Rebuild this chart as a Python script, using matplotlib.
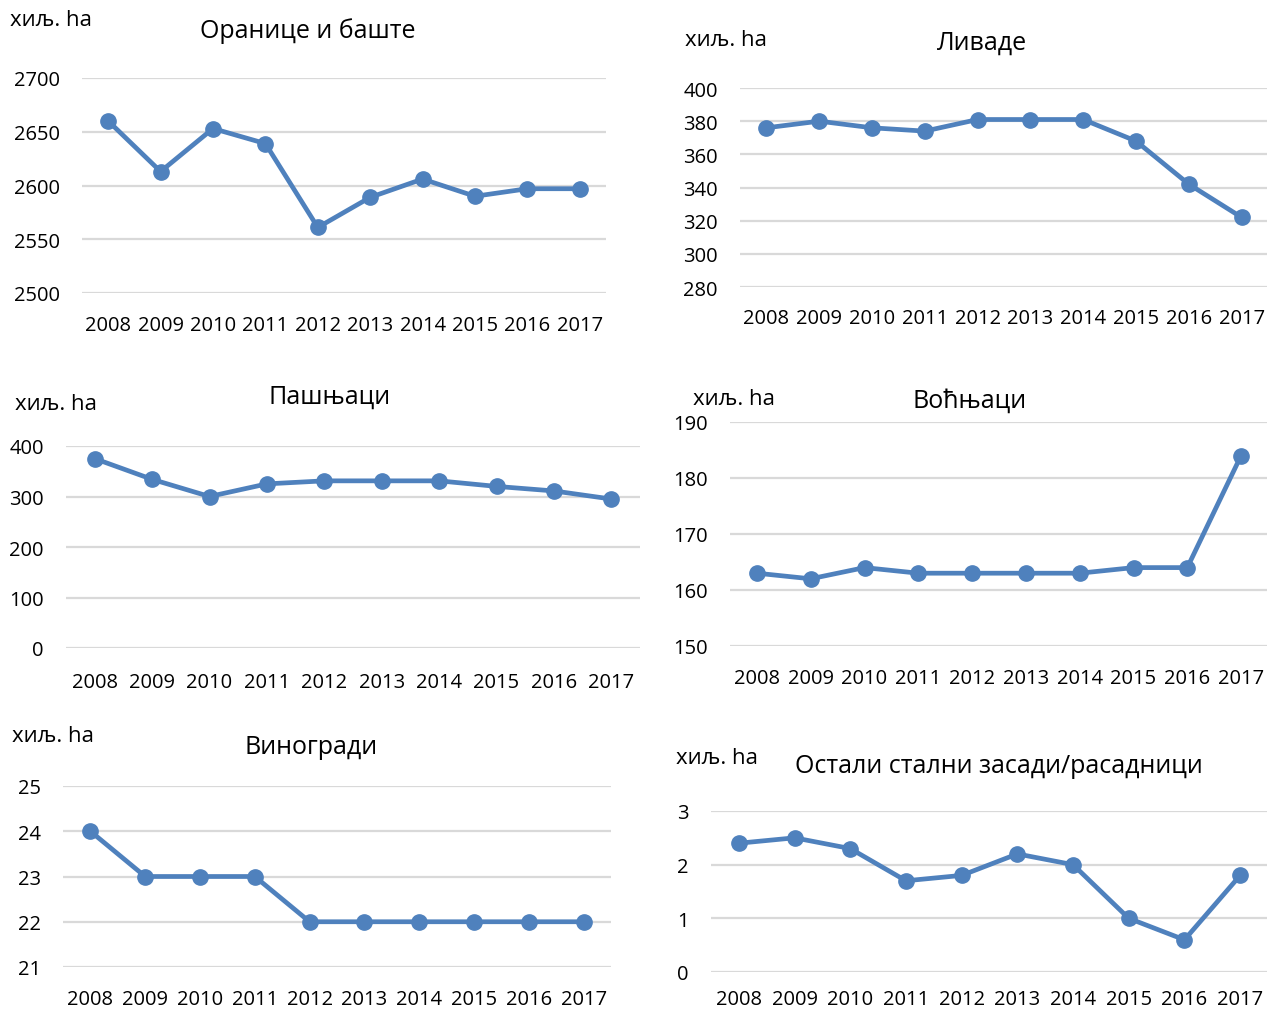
import matplotlib
matplotlib.use("Agg")
import matplotlib.pyplot as plt

plt.rcParams['font.family'] = ['Open Sans', 'DejaVu Sans']

years = ['2008', '2009', '2010', '2011', '2012', '2013', '2014', '2015', '2016', '2017']

titles = ['Оранице и баште', 'Ливаде', 'Пашњаци', 'Воћњаци', 'Виногради',
          'Остали стални засади/расадници']
unit = 'хиљ. ha'

oranice = [2660, 2613, 2653, 2639, 2561, 2589, 2606, 2590, 2597, 2597]
livade = [376, 380, 376, 374, 381, 381, 381, 368, 342, 322]
pasnjaci = [375, 334, 300, 325, 331, 331, 331, 320, 311, 295]
vocnjaci = [163, 162, 164, 163, 163, 163, 163, 164, 164, 184]
vinogradi = [24, 23, 23, 23, 22, 22, 22, 22, 22, 22]
ostali = [2.4, 2.5, 2.3, 1.7, 1.8, 2.2, 2.0, 1.0, 0.6, 1.8]

ticks1 = [2500, 2550, 2600, 2650, 2700]
ticks2 = [280, 300, 320, 340, 360, 380, 400]
ticks3 = [0, 100, 200, 300, 400]
ticks4 = [150, 160, 170, 180, 190]
ticks5 = [21, 22, 23, 24, 25]
ticks6 = [0, 1, 2, 3]

W, H = 1267, 1012
fig = plt.figure(figsize=(W / 100, H / 100), dpi=100)

BLUE = '#4F81BD'
GRID = '#D9D9D9'

# (left, right, top(y of max tick), bottom(y of min tick)), title pos, unit pos, x-label pad
panels = [
    (oranice, ticks1, (82, 606, 79, 294), (308, 31), (10, 21), 16),
    (livade, ticks2, (740, 1268, 89, 288), (982, 43), (685, 40), 15),
    (pasnjaci, ticks3, (66, 640, 447, 649), (330, 397), (15, 405), 17),
    (vocnjaci, ticks4, (730, 1268, 423, 647), (970, 401), (693, 400), 16),
    (vinogradi, ticks5, (63, 611, 787, 968), (311, 748), (12, 737), 16),
    (ostali, ticks6, (711, 1268, 812, 973), (999, 767), (676, 759), 12),
]

for (vals, ticks, (l, r, t, b), (tx, ty), (ux, uy), xpad), title in zip(panels, titles):
    ax = fig.add_axes([l / W, 1 - b / H, (r - l) / W, (b - t) / H])
    x = list(range(len(years)))
    ax.plot(x, vals, color=BLUE, lw=3.4, marker='o', ms=11, zorder=3,
            solid_joinstyle='round', clip_on=False)
    ax.set_xlim(-0.5, len(years) - 0.5)
    ax.set_ylim(ticks[0], ticks[-1])
    ax.set_yticks(ticks)
    ax.set_xticks(x)
    ax.set_xticklabels(years)
    ax.grid(axis='y', color=GRID, lw=1.6)
    ax.set_axisbelow(True)
    for s in ax.spines.values():
        s.set_visible(False)
    ax.tick_params(length=0, labelsize=14.5, colors='black')
    ax.tick_params(axis='x', pad=xpad)
    ax.tick_params(axis='y', pad=16)
    fig.text(tx / W, 1 - ty / H, title, ha='center', va='center', fontsize=18)
    fig.text(ux / W, 1 - uy / H, unit, ha='left', va='center', fontsize=16)

fig.savefig('out.png', dpi=100, facecolor='white')
